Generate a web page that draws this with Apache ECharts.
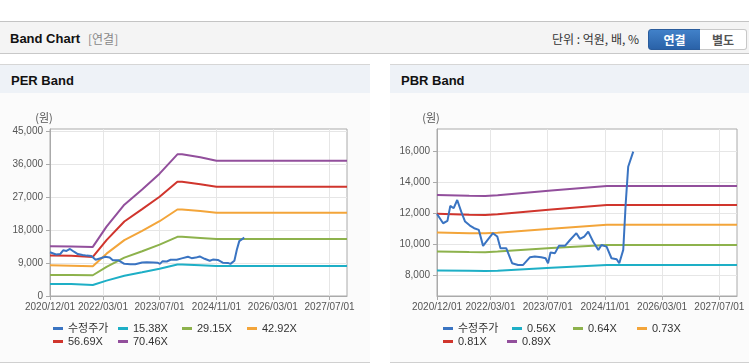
<!DOCTYPE html>
<html>
<head>
<meta charset="utf-8">
<script src="https://cdn.jsdelivr.net/npm/echarts@6/dist/echarts.min.js"></script>
<style>
body { margin:0; width:749px; height:364px; background:#fff; position:relative; overflow:hidden;
       font-family:"Liberation Sans","Noto Sans CJK KR",sans-serif; }
.topbar { position:absolute; left:0; top:21px; width:749px; height:31px; background:#f4f4f4;
          border-top:1px solid #c4c4c4; border-bottom:1px solid #c8c8c8; }
.topbar .ttl { position:absolute; left:10px; top:9px; font-size:13px; font-weight:bold; color:#111; }
.topbar .sub { position:absolute; left:88px; top:8px; font-size:12px; color:#888; font-family:"Noto Sans CJK KR"; line-height:17px; }
.topbar .unit { position:absolute; left:552px; top:8px; font-size:12px; color:#333; font-family:"Noto Sans CJK KR"; line-height:17px; }
.btn { position:absolute; top:7px; height:19px; line-height:19px; font-size:12px; font-weight:bold; text-align:center;
       font-family:"Noto Sans CJK KR"; }
.b1 { left:648px; width:51px; color:#fff; background:linear-gradient(#4181c9,#2a62a8); border:1px solid #2a5c9c; border-radius:3px 0 0 3px; }
.b2 { left:700px; width:46px; color:#555; background:#fff; border:1px solid #c8c8c8; border-left:none; border-radius:0 3px 3px 0; }
.panel { position:absolute; top:64px; height:297px; background:#fbfbfb; border-top:1px solid #d6d6d6; border-bottom:1px solid #d0d0d0; }
.panel .hd { height:28px; background:#eef2f7; font-size:13px; font-weight:bold; line-height:31px; padding-left:11px; color:#111; }
.chart { position:absolute; top:93px; height:269px; }
</style>
</head>
<body>
<div class="topbar">
  <span class="ttl">Band Chart</span><span class="sub">[연결]</span>
  <span class="unit">단위 : 억원, 배, %</span>
  <div class="btn b1">연결</div><div class="btn b2">별도</div>
</div>
<div class="panel" style="left:0;width:370px"><div class="hd">PER Band</div></div>
<div class="panel" style="left:390px;width:359px"><div class="hd">PBR Band</div></div>
<div id="per" class="chart" style="left:0;width:370px"></div>
<div id="pbr" class="chart" style="left:390px;width:359px"></div>
<script>
// 수정주가 (shared by both charts)
var priceDates = ['2020-12-01','2021-01-22','2021-02-28','2021-03-24','2021-04-22','2021-05-22','2021-06-25','2021-07-28',
  '2021-09-07','2021-10-13','2021-11-22','2021-12-28','2022-02-10','2022-03-22','2022-04-28','2022-05-25','2022-07-13',
  '2022-09-01','2022-10-22','2022-12-04','2023-02-01','2023-03-13','2023-05-07','2023-06-13','2023-07-04','2023-07-25',
  '2023-09-01','2023-10-04','2023-11-25','2024-01-07','2024-03-01','2024-04-01','2024-05-07','2024-06-10','2024-07-22',
  '2024-09-04','2024-10-01','2024-11-13','2024-12-25','2025-02-07','2025-03-01','2025-04-04','2025-04-25','2025-05-16','2025-06-28'];
var price = [11980,11380,11530,12500,12350,12880,12130,11490,11230,11060,10950,9920,10350,10740,10520,9770,9770,
  8800,8690,8690,9190,9230,9190,9120,8800,9490,9450,9920,9920,10300,10740,10370,10520,10840,10190,
  9660,9980,9870,9120,9060,8800,9660,12670,15030,16000];

// PER band
var perNames = ['15.38X','29.15X','42.92X','56.69X','70.46X'];
var perDates = ['2020-12-01','2021-06-01','2021-12-04','2022-04-01','2022-09-01','2023-02-01','2023-07-01','2023-12-01','2024-01-10','2024-06-15','2024-11-01','2027-11-28'];
var per1538 = [3290,3280,3020,4220,5550,6480,7440,8610,8610,8420,8230,8230];
var per2915 = [5760,5720,5680,7980,10500,12260,14070,16200,16200,15900,15640,15640];
var per4292 = [8420,8300,8150,11600,15300,17850,20480,23700,23700,23250,22780,22780];
var per5669 = [11090,11000,10700,15310,20400,23800,27200,31280,31280,30600,29900,29900];
var per7046 = [13640,13560,13450,19000,25000,29200,33500,38800,38800,37980,37040,37040];
var perTicks = [0,9000,18000,27000,36000,45000];

// PBR band
var pbrNames = ['0.56X','0.64X','0.73X','0.81X','0.89X'];
var pbrDates = ['2020-12-01','2021-09-01','2022-01-15','2022-05-01','2023-08-01','2024-11-15','2027-11-28'];
var pbr056 = [8330,8310,8300,8320,8510,8690,8690];
var pbr064 = [9550,9520,9510,9550,9780,9980,9980];
var pbr073 = [10780,10740,10730,10760,11030,11280,11280];
var pbr081 = [11990,11930,11920,11960,12260,12560,12560];
var pbr089 = [13210,13150,13140,13180,13490,13790,13790];
var pbrTicks = [8000,10000,12000,14000,16000];

var xTicks = ['2020-12-01','2022-03-01','2023-07-01','2024-11-01','2026-03-01','2027-07-01'];
var xStart = '2020-12-01', xEnd = '2027-11-28';

var priceName = '수정주가';
var colors = ['#3a74c2','#1eafc6','#8db24c','#f3a53a','#d0352d','#924f9c'];

function ts(s) { var p = s.split('-'); return new Date(+p[0], +p[1] - 1, +p[2]).getTime(); }
function pad(n) { return n < 10 ? '0' + n : '' + n; }
function fmtDate(v) {
  var d = new Date(v);
  return d.getFullYear() + '/' + pad(d.getMonth() + 1) + '/' + pad(d.getDate());
}
function pairs(dates, vals) {
  return dates.map(function (d, i) { return [ts(d), vals[i]]; });
}

function buildOption(names, dates, bands, yMin, yMax, yTicks, legendPos) {
  var all = [priceName].concat(names);
  var series = bands.map(function (vals, i) {
    return { name: names[i], type: 'line', data: pairs(dates, vals), showSymbol: false,
             lineStyle: { width: 2, color: colors[i + 1] }, itemStyle: { color: colors[i + 1] } };
  });
  series.push({ name: priceName, type: 'line', data: pairs(priceDates, price), showSymbol: false,
                lineStyle: { width: 2, color: colors[0] }, itemStyle: { color: colors[0] } });
  var legends = all.map(function (n, i) {
    return { data: [n], left: legendPos[i][0], top: legendPos[i][1], padding: 0, itemGap: 0,
             icon: 'rect', itemWidth: 10, itemHeight: 3, itemStyle: { color: colors[i] },
             textStyle: { fontSize: 11, color: '#333', fontFamily: 'Liberation Sans, Noto Sans CJK KR' } };
  });
  var xt = xTicks.map(ts);
  return {
    animation: false,
    color: colors,
    grid: { left: 50, right: 0, top: 36, bottom: 66, show: true, borderColor: '#aaaaaa', borderWidth: 1, backgroundColor: '#ffffff' },
    legend: legends,
    xAxis: {
      type: 'value', min: ts(xStart), max: ts(xEnd),
      axisLine: { lineStyle: { color: '#aaaaaa' } },
      axisTick: { show: true, length: 4, lineStyle: { color: '#aaaaaa' }, customValues: xt },
      axisLabel: { customValues: xt, formatter: fmtDate, fontSize: 10, color: '#555', margin: 6,
                   fontFamily: 'Liberation Sans', hideOverlap: false },
      splitLine: { show: true, lineStyle: { color: '#e6e6e6' } }
    },
    yAxis: {
      type: 'value', min: yMin, max: yMax,
      name: '(원)', nameLocation: 'end', nameGap: 6,
      nameTextStyle: { fontSize: 11, color: '#555', align: 'center', padding: [0, 12, 0, 0], fontFamily: 'Noto Sans CJK KR' },
      axisLine: { show: true, lineStyle: { color: '#aaaaaa' } },
      axisTick: { show: true, length: 4, lineStyle: { color: '#aaaaaa' }, customValues: yTicks },
      axisLabel: { customValues: yTicks, fontSize: 10, color: '#555', margin: 7, fontFamily: 'Liberation Sans',
                   formatter: function (v) { return echarts.format.addCommas(v); } },
      splitLine: { show: true, lineStyle: { color: '#e6e6e6' } }
    },
    series: series
  };
}

var perChart = echarts.init(document.getElementById('per'));
var perOpt = buildOption(perNames, perDates, [per1538, per2915, per4292, per5669, per7046], 0, 45740, perTicks,
  [[53,230],[118,230],[182,230],[247,230],[53,243],[118,243]]);
perOpt.grid.left = 50; perOpt.grid.right = 23;
perChart.setOption(perOpt);

var pbrChart = echarts.init(document.getElementById('pbr'));
var pbrOpt = buildOption(pbrNames, pbrDates, [pbr056, pbr064, pbr073, pbr081, pbr089], 6684, 17464, pbrTicks,
  [[53,230],[122,230],[183,230],[247,230],[53,243],[117,243]]);
pbrOpt.grid.left = 47; pbrOpt.grid.right = 12;
pbrChart.setOption(pbrOpt);
</script>
</body>
</html>
